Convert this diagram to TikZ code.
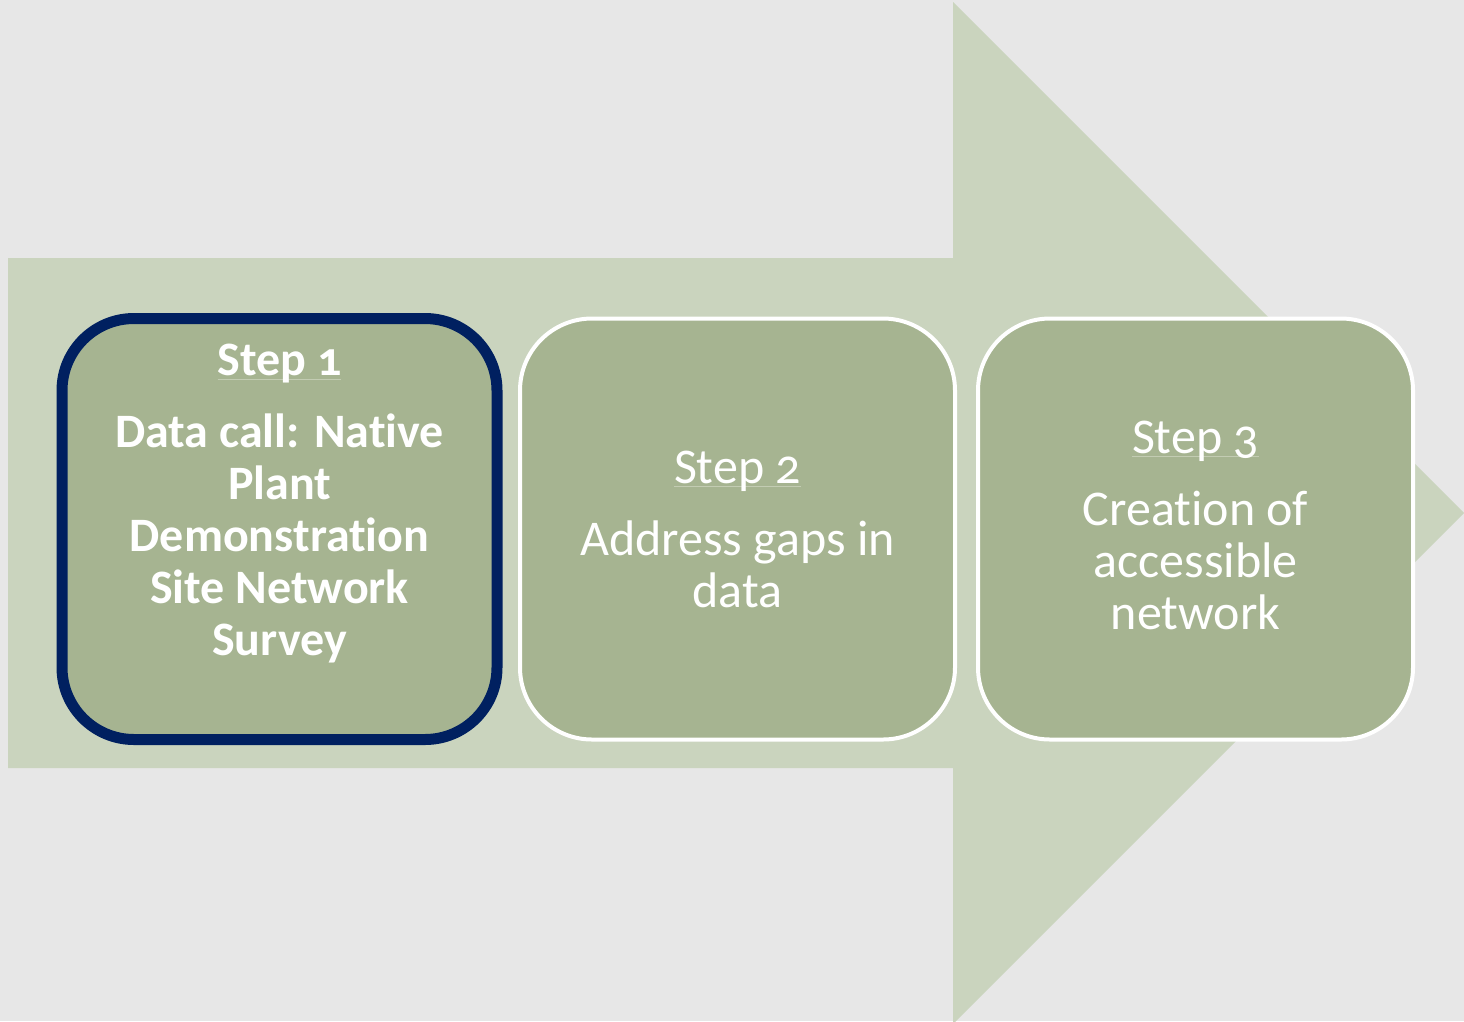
\documentclass[tikz,border=0pt]{standalone}
\usepackage{fontspec}
\setmainfont{Carlito}[Numbers=OldStyle, Ligatures=NoCommon]
\usetikzlibrary{positioning}
\definecolor{canvas}{HTML}{E7E7E7}
\definecolor{arrowgreen}{HTML}{CAD4BE}
\definecolor{boxgreen}{HTML}{A6B491}
\definecolor{navy}{HTML}{002060}
\definecolor{linegreen}{HTML}{C3CCB3}
\newcommand{\stepline}[1]{\setbox0=\hbox{#1}\rlap{\color{linegreen}\rule[-4pt]{\wd0}{1.3pt}}\box0}

\begin{document}
\begin{tikzpicture}[x=1pt, y=-1pt, node distance=458pt,
  step box/.style={rectangle, rounded corners=72pt, draw=white, line width=4pt, fill=boxgreen, minimum width=435pt, minimum height=421pt},
  step text/.style={text=white, align=center, font=\fontsize{50}{52}\selectfont}]
	\useasboundingbox (0,0) rectangle (1464,1021);
	\clip (0,0) rectangle (1464,1021);
	\fill[canvas] (0,0) rectangle (1464,1021);
	% big arrow behind the steps
	\fill[arrowgreen] (8,258) -- (953,258) -- (953,2) -- (1464,513) -- (953,1024) -- (953,768) -- (8,768) -- cycle;

	\node[step box, draw=navy, line width=11pt] (s1) at (279.5,529) {};
	\node[step box] (s2) [right of=s1] {};
	\node[step box] (s3) [right of=s2] {};

	\node[step text, font=\fontsize{48}{52}\selectfont\bfseries] (t1) at ([yshift=25pt]s1.center) {\stepline{Step 1}\\[20pt] Data call: Native\\ Plant\\ Demonstration\\ Site Network\\ Survey};
	\node[step text] (t2) at (s2.center) {\stepline{Step 2}\\[20pt] Address gaps in\\ data};
	\node[step text] (t3) at ([yshift=4pt]s3.center) {\stepline{Step 3}\\[20pt] Creation of\\ accessible\\ network};
\end{tikzpicture}
\end{document}
